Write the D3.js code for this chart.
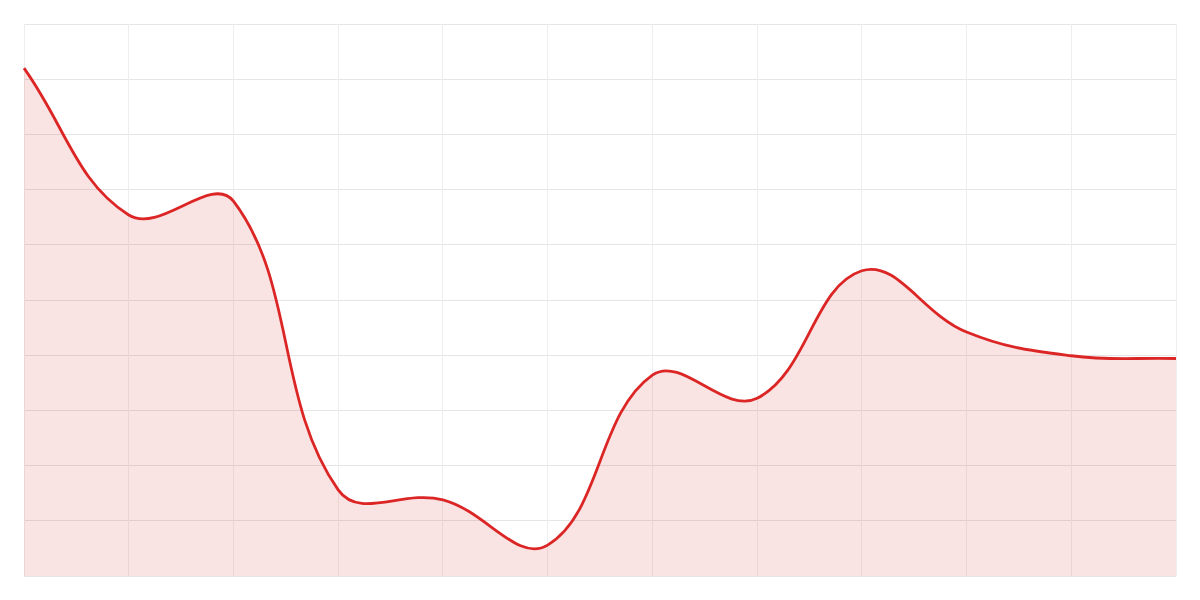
<!DOCTYPE html>
<html>
<head>
<meta charset="utf-8">
<script src="https://cdn.jsdelivr.net/npm/d3@7"></script>
<style>
  html, body { margin: 0; padding: 0; background: #ffffff; }
  svg { display: block; }
</style>
</head>
<body>
<svg id="chart" width="1200" height="600"></svg>
<script>
const categories = [0, 1, 2, 3, 4, 5, 6, 7, 8, 9, 10, 11];
const values = [92.0, 65.4, 67.9, 15.6, 13.8, 5.6, 36.4, 32.2, 55.3, 44.2, 39.9, 39.4];
const yTicks = [0, 10, 20, 30, 40, 50, 60, 70, 80, 90, 100];

const W = 1200, H = 600;
const margin = { top: 24, right: 24, bottom: 24, left: 24 };

const svg = d3.select('#chart');

const x = d3.scaleLinear()
  .domain([categories[0], categories[categories.length - 1]])
  .range([margin.left, W - margin.right]);
const y = d3.scaleLinear()
  .domain([0, 100])
  .range([H - margin.bottom, margin.top]);

const data = categories.map((c, i) => ({ c, v: values[i] }));

// Distance-weighted spline curve (tension 0.4) as a d3 curve factory
function SplineCurve(context, t) { this._context = context; this._t = t; }
SplineCurve.prototype = {
  areaStart() { this._line = 0; },
  areaEnd() { this._line = NaN; },
  lineStart() { this._pts = []; },
  point(px, py) { this._pts.push([+px, +py]); },
  lineEnd() {
    const p = this._pts, n = p.length, t = this._t, ctx = this._context;
    if (n) {
      if (this._line) ctx.lineTo(p[0][0], p[0][1]); else ctx.moveTo(p[0][0], p[0][1]);
      if (n > 1) {
        const prevCP = [], nextCP = [];
        for (let i = 0; i < n; i++) {
          const a = p[Math.max(0, i - 1)], b = p[i], c = p[Math.min(n - 1, i + 1)];
          const d01 = Math.hypot(b[0] - a[0], b[1] - a[1]);
          const d12 = Math.hypot(c[0] - b[0], c[1] - b[1]);
          let s01 = d01 / (d01 + d12), s12 = d12 / (d01 + d12);
          if (!isFinite(s01)) s01 = 0;
          if (!isFinite(s12)) s12 = 0;
          const fa = t * s01, fb = t * s12;
          prevCP[i] = [b[0] - fa * (c[0] - a[0]), b[1] - fa * (c[1] - a[1])];
          nextCP[i] = [b[0] + fb * (c[0] - a[0]), b[1] + fb * (c[1] - a[1])];
        }
        for (let i = 1; i < n; i++) {
          ctx.bezierCurveTo(nextCP[i - 1][0], nextCP[i - 1][1], prevCP[i][0], prevCP[i][1], p[i][0], p[i][1]);
        }
      }
    }
    if (this._line || (this._line !== 0 && n === 1)) ctx.closePath();
    this._line = 1 - this._line;
  }
};
const curveSpline = context => new SplineCurve(context, 0.4);

// Grid
const grid = svg.append('g');
grid.selectAll('line.h')
  .data(yTicks)
  .join('line')
  .attr('class', 'h')
  .attr('x1', margin.left).attr('x2', W - margin.right)
  .attr('y1', d => Math.floor(y(d)) + 0.5).attr('y2', d => Math.floor(y(d)) + 0.5)
  .attr('stroke', '#e5e5e5').attr('stroke-width', 1);
grid.selectAll('line.v')
  .data(categories)
  .join('line')
  .attr('class', 'v')
  .attr('x1', d => Math.floor(x(d)) + 0.5).attr('x2', d => Math.floor(x(d)) + 0.5)
  .attr('y1', margin.top).attr('y2', H - margin.bottom)
  .attr('stroke', '#eeeeee').attr('stroke-width', 1);

const area = d3.area()
  .x(d => x(d.c))
  .y0(y(0))
  .y1(d => y(d.v))
  .curve(curveSpline);

const line = d3.line()
  .x(d => x(d.c))
  .y(d => y(d.v))
  .curve(curveSpline);

svg.append('defs').append('clipPath').attr('id', 'clip')
  .append('rect')
  .attr('x', margin.left).attr('y', margin.top)
  .attr('width', W - margin.left - margin.right)
  .attr('height', H - margin.top - margin.bottom);

svg.append('path')
  .datum(data)
  .attr('d', area)
  .attr('clip-path', 'url(#clip)')
  .attr('fill', 'rgba(205, 40, 40, 0.13)');

svg.append('path')
  .datum(data)
  .attr('d', line)
  .attr('fill', 'none')
  .attr('stroke', '#dc2626')
  .attr('stroke-width', 2.8)
  .attr('stroke-linejoin', 'round');
</script>
</body>
</html>
